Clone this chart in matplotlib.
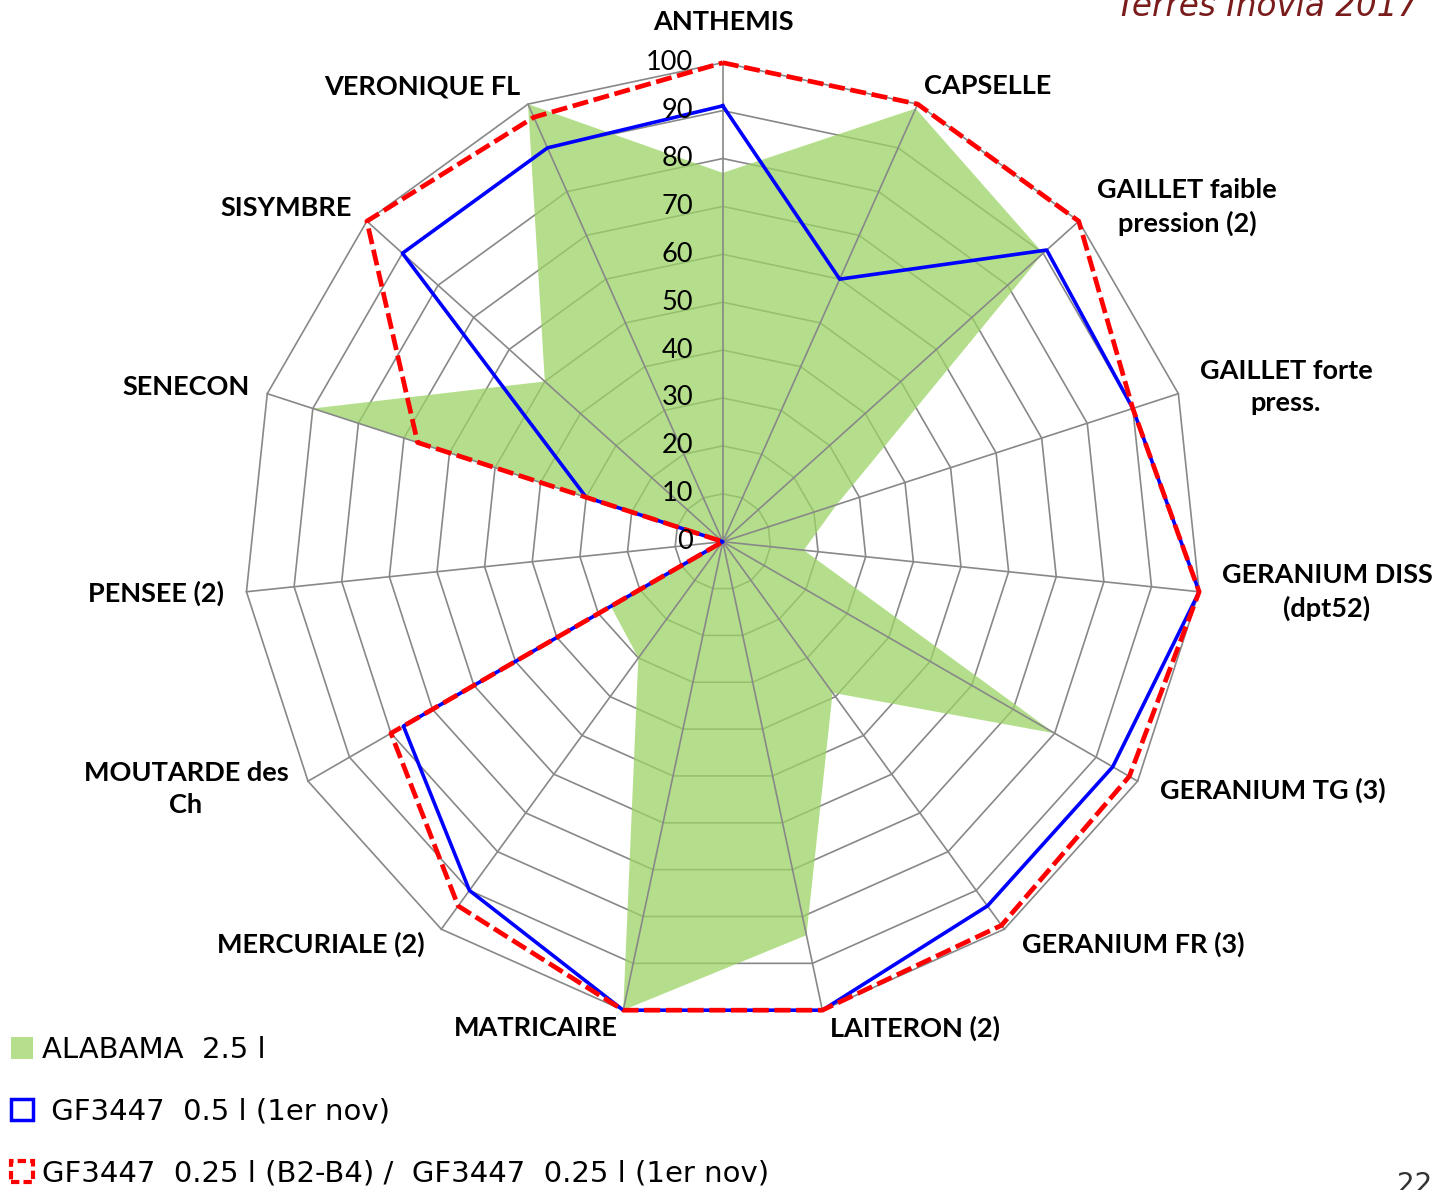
import numpy as np
import matplotlib
matplotlib.use("Agg")
import matplotlib.pyplot as plt
from matplotlib.patches import Patch

plt.rcParams['font.family'] = ['Lato', 'DejaVu Sans']

# ───────────────────────────────────────────────
# Données
# ───────────────────────────────────────────────
categories = ["ANTHEMIS", "CAPSELLE", "GAILLET faible\npression (2)", "GAILLET forte\npress.",
              "GERANIUM DISS\n(dpt52)", "GERANIUM TG (3)", "GERANIUM FR (3)", "LAITERON (2)",
              "MATRICAIRE", "MERCURIALE (2)", "MOUTARDE des\nCh", "PENSEE (2)",
              "SENECON", "SISYMBRE", "VERONIQUE FL"]
alabama = [77, 99, 90, 25, 17, 80, 39, 84, 100, 30, 27, 0, 90, 50, 100]
gf_05 = [91, 60, 91, 90, 100, 94, 94, 100, 100, 90, 77, 0, 30, 90, 90]
gf_025 = [100, 100, 100, 90, 100, 98, 99, 100, 100, 94, 80, 0, 67, 100, 97]
ticks = [0, 10, 20, 30, 40, 50, 60, 70, 80, 90, 100]
series_labels = ["ALABAMA  2.5 l", " GF3447  0.5 l (1er nov)",
                 "GF3447  0.25 l (B2-B4) /  GF3447  0.25 l (1er nov)"]

# position (px) des étiquettes de catégories, comme dans le modèle
label_pos = [(723, 22), (988, 86), (1187, 207), (1286, 387), (1327, 592),
             (1273, 790), (1133, 944), (915, 1028), (536, 1028), (321, 944),
             (186, 789), (156, 593), (186, 387), (286, 208), (422, 86)]

W, H = 1440, 1190
GRID = '#888888'

n = len(categories)
theta = np.linspace(0, 2 * np.pi, n, endpoint=False)
theta_c = np.append(theta, theta[0])


def closed(v):
    return np.append(v, v[0])


fig = plt.figure(figsize=(W / 100, H / 100), dpi=100)
ax = fig.add_axes([0.1693, 0.1423, 0.6653, 0.805], projection='polar')
ax.set_theta_zero_location('N')
ax.set_theta_direction(-1)
ax.set_ylim(0, 100)
ax.set_xticks([])
ax.set_yticks([])
ax.grid(False)
ax.spines['polar'].set_visible(False)
ax.patch.set_alpha(0)

# anneaux polygonaux (sous le remplissage)
for r in ticks[1:]:
    ax.plot(theta_c, [r] * (n + 1), color=GRID, lw=1.2, zorder=1, clip_on=False)

# ALABAMA : surface
ax.fill(theta_c, closed(alabama), color='#9cd466', alpha=0.75, lw=0, zorder=2)

# rayons
for t in theta:
    ax.plot([t, t], [0, 100], color=GRID, lw=1.2, zorder=3, clip_on=False)

ax.plot(theta_c, closed(gf_05), color='#0000ff', lw=2.6, zorder=4, clip_on=False)
ax.plot(theta_c, closed(gf_025), color='#ff0000', lw=3.4, ls=(0, (3.4, 1.2)),
        zorder=5, clip_on=False)

# graduations
for r in ticks:
    ax.annotate(str(r), xy=(0, r), xytext=(-21.5, 0), textcoords='offset points',
                ha='right', va='center', fontsize=19.5, zorder=6)

for lab, (x, y) in zip(categories, label_pos):
    fig.text(x / W, 1 - y / H, lab, ha='center', va='center', fontsize=19.5,
             fontweight='bold', linespacing=1.4)

handles = [Patch(facecolor='#b5df8c', edgecolor='none'),
           Patch(facecolor='white', edgecolor='#0000ff', lw=2.5),
           Patch(facecolor='white', edgecolor='#ff0000', lw=3, ls=(0, (2, 1)))]
fig.legend(handles, series_labels, loc='upper left', bbox_to_anchor=(11 / W, 1 - 1036 / H),
           frameon=False, handlelength=0.75, handleheight=0.75,
           handletextpad=0.3, labelspacing=1.16, borderpad=0, borderaxespad=0,
           prop={'family': 'DejaVu Sans', 'size': 21})

fig.text(1418 / W, 1 - 16 / H, "Terres Inovia 2017", ha='right', va='baseline',
         fontsize=23.5, style='italic', color='#7a1c1c', family='DejaVu Sans')
fig.text(1432 / W, 1 - 1171 / H, "22", ha='right', va='top', fontsize=20,
         color='#333333', family='DejaVu Sans')

fig.savefig('out.png', dpi=100)
